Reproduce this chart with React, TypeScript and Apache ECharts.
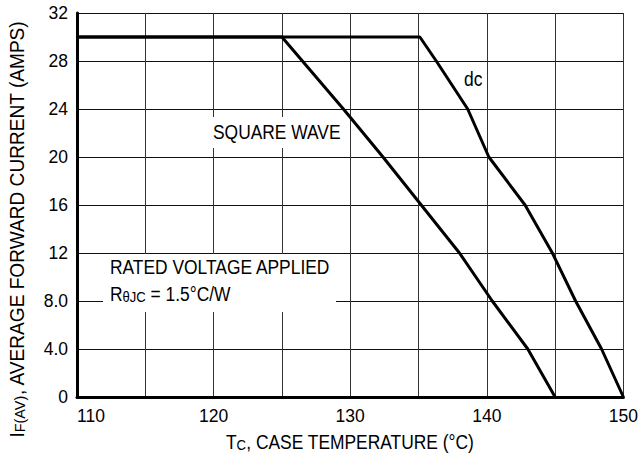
import React, { useEffect, useRef } from "react";
import * as echarts from "echarts";

const squareWaveT = [110, 125, 129.5, 132.4, 135.2, 138, 140.4, 143, 145];
const squareWaveI = [30, 30, 24, 20, 16, 12, 8, 4, 0];
const dcT = [110, 135.1, 136.3, 138.6, 140.15, 142.8, 144.8, 146.5, 148.4, 150];
const dcI = [30, 30, 28, 24, 20, 16, 12, 8, 4, 0];
const xTickLabels = [110, 120, 130, 140, 150];
const yTickLabels: Record<number, string> = { 0: "0", 4: "4.0", 8: "8.0", 12: "12", 16: "16", 20: "20", 24: "24", 28: "28", 32: "32" };

const FONT = "'Liberation Sans', Arial, sans-serif";
const NARROW = 0.87;

export default function App() {
  const ref = useRef<HTMLDivElement>(null);
  useEffect(() => {
    if (!ref.current) return;
    const chart = echarts.init(ref.current, null, { renderer: "svg" });
    const sq = squareWaveT.map((t, i) => [t, squareWaveI[i]]);
    const dc = dcT.map((t, i) => [t, dcI[i]]);
    const subRich = {
      m: { fontSize: 20, fontFamily: FONT, lineHeight: 20, verticalAlign: "top" },
      s: { fontSize: 15, fontFamily: FONT, lineHeight: 15, verticalAlign: "bottom", padding: [11, 0, 0, 0] },
    };
    chart.setOption({
      animation: false,
      backgroundColor: "#fff",
      textStyle: { fontFamily: FONT, color: "#000" },
      grid: { left: 77, right: 17, top: 13, bottom: 77, containLabel: false },
      xAxis: {
        type: "value",
        min: 110,
        max: 150,
        interval: 5,
        axisLine: { show: true, onZero: false, lineStyle: { color: "#000", width: 3 } },
        axisTick: { show: false },
        splitLine: { show: true, lineStyle: { color: "#333", width: 1 } },
        axisLabel: {
          color: "#000",
          fontSize: 17.5,
          fontFamily: FONT,
          margin: 10,
          alignMinLabel: "left",
          formatter: (v: number) => (xTickLabels.includes(v) ? String(v) : ""),
        },
      },
      yAxis: {
        type: "value",
        min: 0,
        max: 32,
        interval: 4,
        axisLine: { show: true, onZero: false, lineStyle: { color: "#000", width: 3 } },
        axisTick: { show: false },
        splitLine: { show: true, lineStyle: { color: "#111", width: 1 } },
        axisLabel: {
          color: "#000",
          fontSize: 17.5,
          fontFamily: FONT,
          margin: 9,
          formatter: (v: number) => yTickLabels[v] ?? "",
        },
      },
      series: [
        { type: "line", data: sq, symbol: "none", lineStyle: { color: "#000", width: 3 }, z: 5 },
        { type: "line", data: dc, symbol: "none", lineStyle: { color: "#000", width: 3 }, z: 5 },
      ],
      graphic: [
        { type: "rect", z: 100, shape: { x: 205, y: 117, width: 140, height: 31 }, style: { fill: "#fff" } },
        {
          type: "text", z: 101, x: 213, y: 132, scaleX: NARROW,
          style: { text: "SQUARE WAVE", fontSize: 20, fontFamily: FONT, fill: "#000", verticalAlign: "middle" },
        },
        {
          type: "text", z: 101, x: 464, y: 79, scaleX: NARROW,
          style: { text: "dc", fontSize: 20, fontFamily: FONT, fill: "#000", verticalAlign: "middle" },
        },
        { type: "rect", z: 100, shape: { x: 103, y: 254, width: 233, height: 58 }, style: { fill: "#fff" } },
        {
          type: "text", z: 101, x: 110, y: 267, scaleX: NARROW,
          style: { text: "RATED VOLTAGE APPLIED", fontSize: 20, fontFamily: FONT, fill: "#000", verticalAlign: "middle" },
        },
        {
          type: "text", z: 101, x: 110, y: 284, scaleX: NARROW,
          style: { text: "{m|R}{s|θJC}{m| = 1.5°C/W}", fontFamily: FONT, fill: "#000", rich: subRich },
        },
        {
          type: "text", z: 101, x: 350, y: 432, scaleX: NARROW,
          style: { text: "{m|T}{s|C}{m|, CASE TEMPERATURE (°C)}", fontFamily: FONT, fill: "#000", align: "center", rich: subRich },
        },
        {
          type: "text", z: 101, x: 7, y: 229, rotation: Math.PI / 2, scaleX: 0.955,
          style: {
            text: "{m|I}{s|F(AV)}{m|, AVERAGE FORWARD CURRENT (AMPS)}",
            fontFamily: FONT, fill: "#000", align: "center", rich: subRich,
          },
        },
      ],
    });
    return () => chart.dispose();
  }, []);
  return <div ref={ref} style={{ width: 641, height: 474, position: "absolute", left: 0, top: 0 }} />;
}
